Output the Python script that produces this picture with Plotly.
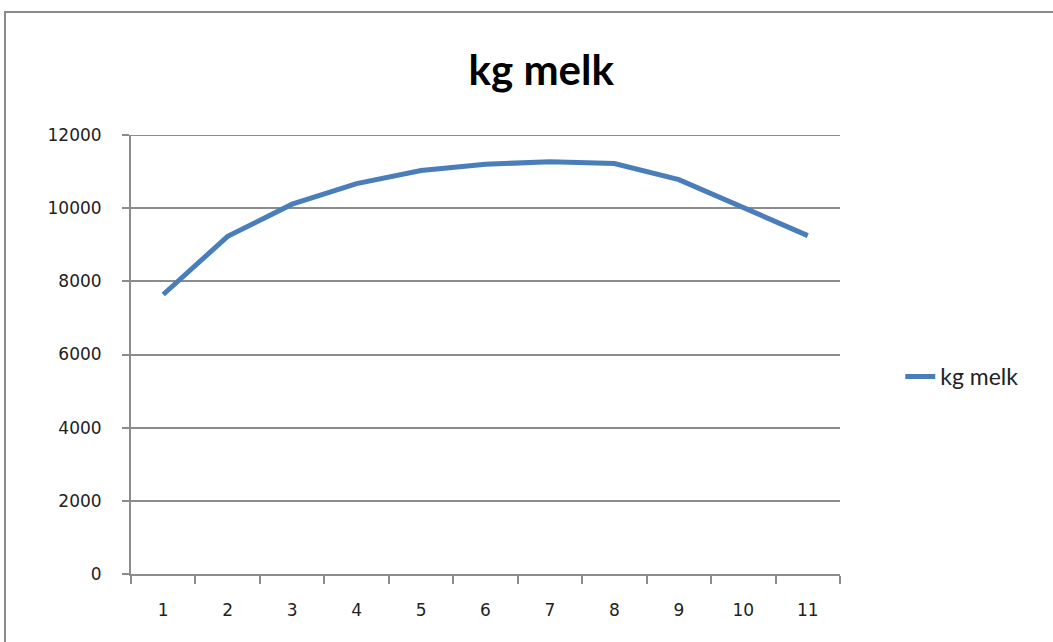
import plotly.graph_objects as go

categories = ["1", "2", "3", "4", "5", "6", "7", "8", "9", "10", "11"]
kg_melk = [7640, 9230, 10110, 10670, 11030, 11200, 11270, 11220, 10780, 10000, 9250]
y_ticks = [0, 2000, 4000, 6000, 8000, 10000, 12000]
y_tick_labels = ["0", "2000", "4000", "6000", "8000", "10000", "12000"]

fig = go.Figure()
fig.add_trace(go.Scatter(
    x=categories, y=kg_melk, mode="lines", name="kg melk",
    line=dict(color="#4A7EBB", width=5),
))

grid = "#8C8C8C"
fig.update_layout(
    width=1053, height=642,
    margin=dict(l=131, r=213, t=135, b=68),
    paper_bgcolor="white", plot_bgcolor="white",
    title=dict(text="<b>kg melk</b>", x=0.514, xanchor="center", y=0.89, yanchor="middle",
               font=dict(family="Lato", size=42, color="black")),
    showlegend=True,
    legend=dict(x=1.085, y=0.45, xanchor="left", yanchor="middle",
                font=dict(family="Lato", size=23, color="#222"),
                bgcolor="rgba(0,0,0,0)"),
    xaxis=dict(type="category", range=[-0.5, 10.5], tickson="boundaries", ticks="outside", ticklen=8,
               tickcolor=grid, tickwidth=1.5, showline=True, linecolor=grid, linewidth=2,
               showgrid=False, ticklabelstandoff=20,
               tickfont=dict(family="DejaVu Sans", size=17, color="#222")),
    yaxis=dict(range=[0, 12000], tickvals=y_ticks, ticktext=y_tick_labels, ticks="outside", ticklen=7,
               tickcolor=grid, tickwidth=1.5, showline=True, linecolor=grid, linewidth=2,
               showgrid=True, gridcolor=grid, gridwidth=2, zeroline=False,
               ticklabelstandoff=17,
               tickfont=dict(family="DejaVu Sans", size=17, color="#222")),
    shapes=[
        dict(type="rect", xref="paper", yref="paper",
             x0=-0.1777, x1=1.32, y0=-0.2, y1=1.280,
             line=dict(color="#8A8A8A", width=2), fillcolor="rgba(0,0,0,0)", layer="below"),
        dict(type="line", xref="paper", yref="y", x0=0, x1=1,
             y0=y_ticks[-1], y1=y_ticks[-1], line=dict(color=grid, width=2), layer="below"),
    ],
)

fig.write_html("out.html", config={"displayModeBar": False},
               post_script="document.body.style.margin='0';")
